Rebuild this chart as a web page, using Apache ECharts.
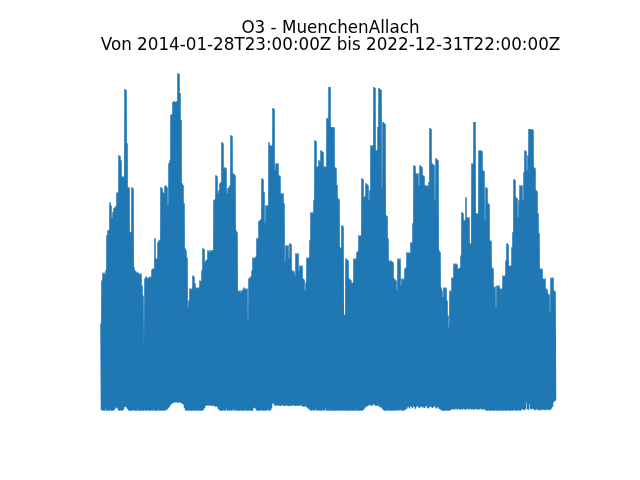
<!DOCTYPE html>
<html>
<head>
<meta charset="utf-8">
<script src="https://cdn.jsdelivr.net/npm/echarts@6/dist/echarts.min.js"></script>
<style>html,body{margin:0;padding:0;background:#fff;}#c{width:640px;height:480px;}</style>
</head>
<body>
<div id="c"></div>
<script>
const titleLine1 = 'O3 - MuenchenAllach';
const titleLine2 = 'Von 2014-01-28T23:00:00Z bis 2022-12-31T22:00:00Z';
const startTime = '2014-01-28T23:00:00Z';
const endTime = '2022-12-31T22:00:00Z';

// Upper envelope (max per sampling period)
const o3Max = [
60.9,91,95.9,96.6,95.2,98,122.5,126,126,145.6,
143.5,134.4,138.6,141.4,142.1,142.8,152.6,151.9,178.5,177.8,
175,163.1,163.8,162.4,224.7,224,186.9,156.1,156.1,124.6,
124.6,156.1,155.4,100.1,98,97.3,96.6,96.6,95.9,95.2,
95.9,87.5,80.5,30.1,92.4,93.8,93.1,92.4,93.1,93.8,
93.1,98.7,99.4,99.4,120.4,106.4,106.4,117.6,119,119,
156.1,155.4,152.6,151.9,156.8,157.5,156.1,143.5,172.9,175,
206.5,207.2,215.6,216.3,215.6,215.6,216.3,235.9,235.2,221.9,
203,158.9,157.5,144.9,113.4,112,107.1,72.1,77,85.4,
84.7,85.4,94.5,93.8,88.9,86.1,85.4,86.1,86.1,91,
90.3,98,113.4,112.7,103.6,105,105.7,112,110.6,112,
111.3,112,112,147,147.7,164.5,163.8,151.9,154,158.9,
159.6,187.6,186.9,169.4,170.1,169.4,151.9,155.4,156.1,157.5,
192.5,191.8,165.9,165.2,164.5,126,124.6,84,83.3,84,
82.6,84,84.7,86.1,85.4,84.7,85.4,63,92.4,93.1,
93.8,98,107.1,106.4,107.1,107.8,120.4,120.4,132.3,133,
133.7,162.4,161.7,152.6,130.9,143.5,142.8,143.5,187.6,185.5,
184.8,185.5,211.4,210.7,168,172.9,172.2,172.9,164.5,163.8,
151.9,151.2,151.9,144.9,103.6,115.5,114.8,115.5,106.4,116.9,
116.2,98,98,97.3,94.5,109.9,109.2,109.9,98,101.5,
100.8,101.5,92.4,91.7,84,89.6,107.1,106.4,107.1,119,
138.6,137.9,138.6,147,189,188.3,170.1,170.8,175,174.3,
182,181.3,180.6,170.1,170.8,170.1,204.4,203.7,226.1,226.1,
198.1,198.1,197.4,198.1,170.1,169.4,157.5,148.4,147.7,114.1,
113.4,129.5,128.8,66.5,67.2,106.4,105.7,105,92.4,91.7,
91,88.9,89.6,106.4,105.7,106.4,110.6,111.3,122.5,121.8,
122.5,162.4,161.7,149.1,149.8,158.9,158.2,157.5,147,154,
185.5,184.8,185.5,226.1,225.4,182,182,198.1,225.4,224.7,
224,155.4,201.6,200.9,200.2,136.5,135.8,120.4,105,104.3,
105,104.3,103.6,92.4,91.7,91,84,106.4,105.7,106.4,
87.5,92.4,91.7,92.4,99.4,100.1,110.6,109.9,110.6,109.9,
117.6,116.9,130.9,171.5,170.8,165.9,165.2,165.9,157.5,171.5,
170.8,170.1,164.5,163.8,157.5,156.8,157.5,156.8,159.6,197.4,
196.7,172.9,172.2,171.5,147,176.4,175.7,175,112,110.6,
86.1,84,79.1,86.1,85.4,86.1,77,66.5,58.1,84,
83.3,93.1,92.4,102.9,102.2,102.9,102.2,99.4,99.4,100.1,
108.5,138.6,137.9,133,133,149.1,135.1,134.4,135.1,116.9,
116.2,172.9,172.2,201.6,201.6,137.9,137.9,137.2,182,181.3,
182,181.3,168,167.3,133,156.1,155.4,144.9,144.2,119,
118.3,100.1,99.4,86.1,86.8,72.1,87.5,86.8,87.5,85.4,
84.7,85.4,94.5,93.8,94.5,105,116.9,116.2,101.5,100.8,
101.5,114.1,124.6,161.7,161,149.1,148.4,135.1,147,157.5,
156.8,157.5,147,166.6,182,181.3,168,178.5,196.7,196.7,
196,196.7,196,170.1,169.4,154,153.3,137.9,123.9,99.4,
98.7,99.4,92.4,91.7,92.4,85.4,84.7,81.9,81.2,68.6,
93.1,92.4,93.1,84,83.3
];

// Lower envelope (min per sampling period)
const o3Min = [
0.7,0,0.4,0,1.1,0,0.3,0,0,0.6,
0,0.2,0,0.9,1.8,2.4,1.5,0.3,0,0.5,
0,0.2,0.8,2.6,3.1,2.2,1.4,0.4,0,0.1,
0,0.6,0,0.3,0,0,0.9,0,0.2,0,
0.4,0,0,0.7,0,0.1,0,0.5,0,0,
0.3,0,0.8,0,0,0.2,0,0.6,0,0.1,
0,0.4,0,0,0.9,0.3,1.2,2.1,2.8,3.9,
4.6,5.2,5.8,5.6,5.9,6.3,5.4,5.7,6.1,5.5,
5.2,4.9,4.4,2.1,0.3,0,0.1,0,0.5,0,
0,0.2,0,0.6,0,0,0.3,0,0.1,0,
0.4,0,0.8,1.9,3.1,3.8,3.6,3.4,3.9,3.5,
3.7,3.2,3.6,3.3,2.8,3.1,2.4,1.2,0.4,0,
0.2,0,0.6,0,0.1,1.3,0,0.3,0,0.5,
0,0.2,1.4,0,0.6,0,0.1,0,0,0.4,
0,0,0.3,0,0.8,0,0.2,0,0.5,0,
0.1,0,1.7,2.2,1.6,0.4,0,0.3,0,0,
0.6,0,0.1,0,0.2,0,0.9,0.3,0,0.4,
1.5,4.9,5.6,3.8,3.5,3.6,3.9,3.4,3.7,3.2,
3.6,3.9,3.5,3.3,3.8,3.4,3.6,3.1,3.7,3.5,
3.3,3.6,3.9,3.4,3.2,3.7,3.5,3.3,3.8,3.6,
3.4,3.1,2.8,2.9,3.3,2.5,2.1,1.4,0.8,0.4,
0,0.6,0.2,0,1.1,0.3,0,0.7,0,0.2,
0,0.9,0,0.4,1.5,0,0.2,0,0.6,0,
0.1,0,0,0.4,0,0.2,0,0,0.5,0,
0.3,0,0.1,0,0.7,0,0,0.2,0,0,
0.4,0,0.1,0,0,0.6,0,0.2,0,0.3,
0,0,0.9,1.6,2.4,2.9,3.1,3.6,4.2,3.8,
3.3,3.9,4.6,4.1,3.5,3.2,3.7,3.4,2.8,2.4,
2.1,1.3,0.5,0,0.2,0,0.6,0,0.3,0,
0.1,0,0.5,0,0.2,0,0.9,0,0.3,0.6,
0,0.2,0,0.4,0.8,1.2,2.3,2.9,1.6,3.1,
2.7,1.8,3.2,2.5,1.4,2.9,3.3,2.4,1.9,2.8,
3.1,2.2,2.6,1.8,2.9,3.4,2.1,1.5,2.6,3.2,
2.4,1.9,2.8,3.5,2.2,1.6,2.7,2.3,1.2,0.8,
0.3,0,0.1,0,0,0.4,0,0,0.2,0.5,
0.9,1.3,1.1,0.7,1.5,1.2,0.8,1.4,1.0,0.6,
1.3,0.9,1.6,1.1,0.7,1.2,1.5,0.8,1.1,1.4,
0.9,1.3,0.6,1.0,1.4,1.1,0.7,1.2,0.9,1.5,
1.0,0.6,1.3,0.8,0.4,0.2,0,0.3,0,0.1,
0,0.4,0,0,0.7,0,0.2,0,0,0.5,
0,0.1,0,0.3,0,0,0.6,0,0.2,0,
0.4,0,0.1,0.9,0,0.3,0,0.5,0.2,0,
0.8,1.2,0.6,0.3,1.4,5.8,1.1,0.7,4.9,1.3,
0.9,1.5,1.2,0.6,0.3,1.1,0.8,0.5,0.2,0.9,
0.4,1.0,0.6,0.3,0.8,0.5,1.1,0.7,0.4,0.9,
1.6,2.8,5.9,6.6,7.1
];

const t0 = Date.parse(startTime);
const t1 = Date.parse(endTime);
const n = Math.min(o3Max.length, o3Min.length);
const half = (t1 - t0) / (2 * n - 1);
const seriesData = [];
for (let i = 0; i < n; i++) {
  seriesData.push([t0 + 2 * i * half, o3Max[i]]);
  seriesData.push([t0 + (2 * i + 1) * half, o3Min[i]]);
}

const chart = echarts.init(document.getElementById('c'), null, {renderer: 'canvas'});
chart.setOption({
  animation: false,
  backgroundColor: '#ffffff',
  title: {
    text: titleLine1 + '\n' + titleLine2,
    left: 330.5,
    top: 20,
    padding: 0,
    textAlign: 'center',
    textStyle: {
      fontFamily: 'DejaVu Sans',
      fontSize: 16.75,
      fontWeight: 'normal',
      color: '#000000',
      lineHeight: 17
    }
  },
  grid: {left: 101, right: 84.5, top: 70, bottom: 69.3},
  xAxis: {
    type: 'time', min: t0, max: t1, show: false
  },
  yAxis: {
    type: 'value', min: 0, max: 238, show: false
  },
  series: [{
    type: 'line',
    data: seriesData,
    showSymbol: false,
    symbol: 'none',
    lineStyle: {color: '#1f77b4', width: 1.5},
    itemStyle: {color: '#1f77b4'},
    clip: false
  }]
});
</script>
</body>
</html>
